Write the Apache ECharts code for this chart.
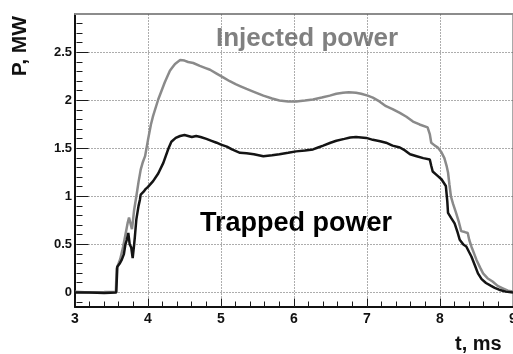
<!DOCTYPE html>
<html>
<head>
<meta charset="utf-8">
<script src="https://cdn.jsdelivr.net/npm/echarts@6/dist/echarts.min.js"></script>
<style>
html,body{margin:0;padding:0;background:#fff;}
#chart{width:513px;height:354px;}
</style>
</head>
<body>
<div id="chart"></div>
<script>
// Injected power (grey curve)
var injectedT = [3.00,3.20,3.40,3.56,3.57,3.62,3.66,3.69,3.72,3.74,3.76,3.78,3.79,3.81,3.84,3.87,3.90,3.93,3.96,4.00,4.04,4.07,4.14,4.23,4.30,4.33,4.37,4.44,4.50,4.55,4.62,4.71,4.78,4.85,4.94,5.03,5.12,5.20,5.26,5.35,5.45,5.58,5.70,5.80,5.92,6.03,6.15,6.26,6.38,6.49,6.58,6.67,6.75,6.85,6.92,7.01,7.08,7.17,7.26,7.35,7.45,7.54,7.63,7.72,7.83,7.86,7.88,7.93,7.97,8.02,8.06,8.09,8.11,8.13,8.15,8.18,8.22,8.26,8.29,8.34,8.38,8.40,8.43,8.47,8.50,8.55,8.59,8.65,8.72,8.79,8.86,8.93,9.00];
var injectedP = [0.01,0.00,0.005,0.01,0.25,0.35,0.48,0.60,0.72,0.78,0.80,0.66,0.72,0.86,1.00,1.15,1.28,1.36,1.42,1.59,1.75,1.84,2.01,2.19,2.31,2.34,2.38,2.42,2.415,2.40,2.39,2.36,2.34,2.32,2.28,2.24,2.20,2.17,2.15,2.12,2.09,2.05,2.02,2.00,1.99,1.99,2.00,2.01,2.03,2.05,2.07,2.08,2.085,2.08,2.07,2.05,2.03,1.99,1.94,1.91,1.87,1.83,1.78,1.75,1.72,1.65,1.56,1.53,1.51,1.46,1.40,1.32,1.25,1.12,1.00,0.92,0.83,0.73,0.64,0.63,0.62,0.55,0.48,0.40,0.34,0.26,0.20,0.15,0.115,0.07,0.045,0.02,0.01];

// Trapped power (black curve)
var trappedT = [3.00,3.20,3.40,3.565,3.58,3.61,3.64,3.67,3.69,3.71,3.73,3.75,3.77,3.79,3.80,3.81,3.82,3.84,3.87,3.89,3.90,3.91,3.94,3.97,4.00,4.07,4.14,4.21,4.28,4.32,4.38,4.44,4.50,4.55,4.60,4.66,4.72,4.80,4.87,4.94,5.00,5.08,5.15,5.26,5.35,5.45,5.58,5.70,5.80,5.92,6.03,6.15,6.26,6.33,6.40,6.50,6.58,6.69,6.77,6.85,6.92,6.99,7.08,7.18,7.26,7.35,7.45,7.52,7.59,7.68,7.77,7.86,7.88,7.90,7.96,8.02,8.08,8.10,8.11,8.15,8.20,8.24,8.27,8.32,8.36,8.40,8.43,8.48,8.52,8.57,8.63,8.70,8.75,8.81,8.90,9.00];
var trappedP = [0.00,0.00,-0.005,0.00,0.27,0.30,0.34,0.40,0.50,0.55,0.62,0.50,0.47,0.36,0.35,0.50,0.58,0.76,0.90,0.97,1.02,1.04,1.05,1.08,1.10,1.16,1.24,1.35,1.50,1.57,1.61,1.63,1.64,1.63,1.62,1.63,1.62,1.60,1.58,1.56,1.54,1.52,1.49,1.455,1.45,1.44,1.42,1.43,1.44,1.455,1.47,1.48,1.49,1.51,1.53,1.56,1.58,1.60,1.615,1.62,1.615,1.61,1.59,1.575,1.56,1.53,1.51,1.48,1.44,1.42,1.40,1.385,1.32,1.26,1.22,1.18,1.11,0.95,0.83,0.78,0.72,0.63,0.55,0.50,0.48,0.42,0.376,0.28,0.20,0.14,0.10,0.07,0.05,0.03,0.01,0.00];

// Axis ticks
var xTicks = [3,4,5,6,7,8,9];
var xMinorTicks = [3.2,3.4,3.6,3.8,4.2,4.4,4.6,4.8,5.2,5.4,5.6,5.8,6.2,6.4,6.6,6.8,7.2,7.4,7.6,7.8,8.2,8.4,8.6,8.8];
var yMajorTicks = [0,0.5,1,1.5,2,2.5];
var yMinorTicks = [-0.1,0.1,0.2,0.3,0.4,0.6,0.7,0.8,0.9,1.1,1.2,1.3,1.4,1.6,1.7,1.8,1.9,2.1,2.2,2.3,2.4,2.6,2.7,2.8];

var labels = {
  injected: 'Injected power',
  trapped: 'Trapped power',
  yTitle: 'P, MW',
  xTitle: 't, ms'
};

function pairs(t, p) { return t.map(function (v, i) { return [v, p[i]]; }); }

var FONT = '"Liberation Sans", Arial, Helvetica, sans-serif';
var chart = echarts.init(document.getElementById('chart'), null, {renderer: 'canvas'});
var yRange = {min: -0.15, max: 2.9};
var xRange = {min: xTicks[0], max: xTicks[xTicks.length - 1]};

var gridStyle = {stroke: '#5a5a5a', lineWidth: 1, lineDash: [1, 2], fill: null};
var tickStyle = {stroke: '#1a1a1a', lineWidth: 1, fill: null};

function crisp(v) { return Math.round(v - 0.5) + 0.5; }

// One custom element group holding grid lines and ticks, placed through the axis scales
function frameItem(params, api) {
  var kids = [];
  function seg(a, b, st) {
    kids.push({type: 'line', silent: true, shape: {x1: a[0], y1: a[1], x2: b[0], y2: b[1]}, style: st});
  }
  var bottom = crisp(api.coord([xRange.min, yRange.min])[1]) - 1;
  var top = api.coord([xRange.min, yRange.max])[1];
  var left = crisp(api.coord([xRange.min, 0])[0]) + 1;
  var right = api.coord([xRange.max, 0])[0];
  xTicks.slice(1, -1).forEach(function (x) {
    var px = crisp(api.coord([x, 0])[0]);
    seg([px, bottom], [px, top], gridStyle);
  });
  yMajorTicks.forEach(function (y) {
    var py = crisp(api.coord([xRange.min, y])[1]);
    seg([left, py], [right, py], gridStyle);
  });
  xTicks.forEach(function (x) {
    var px = crisp(api.coord([x, 0])[0]);
    seg([px, bottom], [px, bottom - 8], tickStyle);
  });
  xMinorTicks.forEach(function (x) {
    var px = crisp(api.coord([x, 0])[0]);
    seg([px, bottom], [px, bottom - 5], tickStyle);
  });
  yMajorTicks.forEach(function (y) {
    var py = crisp(api.coord([xRange.min, y])[1]);
    seg([left, py], [left + 12, py], tickStyle);
  });
  yMinorTicks.forEach(function (y) {
    var py = crisp(api.coord([xRange.min, y])[1]);
    seg([left, py], [left + 6, py], tickStyle);
  });
  return {type: 'group', children: kids};
}

chart.setOption({
  animation: false,
  backgroundColor: '#ffffff',
  grid: {left: 75, right: 0, top: 14, bottom: 47, containLabel: false, outerBoundsMode: 'none'},
  xAxis: [{
    type: 'value', min: xRange.min, max: xRange.max, interval: 1, position: 'bottom',
    axisLine: {show: true, onZero: false, lineStyle: {color: '#111', width: 2}},
    axisTick: {show: false},
    axisLabel: {color: '#111', fontFamily: FONT, fontWeight: 'bold', fontSize: 14, margin: 5, showMinLabel: true, showMaxLabel: true},
    splitLine: {show: false}
  }, {
    type: 'value', min: xRange.min, max: xRange.max, interval: 1, position: 'top',
    axisLine: {show: true, onZero: false, lineStyle: {color: '#8c8c8c', width: 2}},
    axisTick: {show: false}, axisLabel: {show: false}, splitLine: {show: false}
  }],
  yAxis: [{
    type: 'value', min: yRange.min, max: yRange.max, position: 'left',
    axisLine: {show: true, onZero: false, lineStyle: {color: '#111', width: 2}},
    axisTick: {show: false},
    axisLabel: {customValues: yMajorTicks, color: '#111', fontFamily: FONT, fontWeight: 'bold', fontSize: 13, margin: 3},
    splitLine: {show: false}
  }, {
    type: 'value', min: yRange.min, max: yRange.max, position: 'right', offset: 0,
    axisLine: {show: true, onZero: false, lineStyle: {color: '#8c8c8c', width: 1.5}},
    axisTick: {show: false}, axisLabel: {show: false}, splitLine: {show: false}
  }],
  series: [
    {
      type: 'custom', xAxisIndex: 0, yAxisIndex: 0, silent: true, clip: false, z: 1,
      data: [[xRange.min, 0]], renderItem: frameItem
    },
    {
      name: labels.injected, type: 'line', data: pairs(injectedT, injectedP), xAxisIndex: 0, yAxisIndex: 0,
      showSymbol: false, lineStyle: {color: '#8a8a8a', width: 2.5}, z: 3
    }, {
      name: labels.trapped, type: 'line', data: pairs(trappedT, trappedP), xAxisIndex: 0, yAxisIndex: 0,
      showSymbol: false, lineStyle: {color: '#141414', width: 2.5}, z: 4
    }
  ],
  graphic: [
    {type: 'text', left: 216, top: 26, style: {text: labels.injected, fill: '#808080', font: 'bold 26px ' + FONT}},
    {type: 'text', left: 200, top: 210, style: {text: labels.trapped, fill: '#000', font: 'bold 27px ' + FONT}},
    {type: 'text', x: 31, y: 46, rotation: Math.PI / 2, style: {text: labels.yTitle, fill: '#111', font: 'bold 21px ' + FONT, align: 'center', verticalAlign: 'bottom'}},
    {type: 'text', left: 455, top: 334, style: {text: labels.xTitle, fill: '#111', font: 'bold 20px ' + FONT}}
  ]
});
</script>
</body>
</html>
